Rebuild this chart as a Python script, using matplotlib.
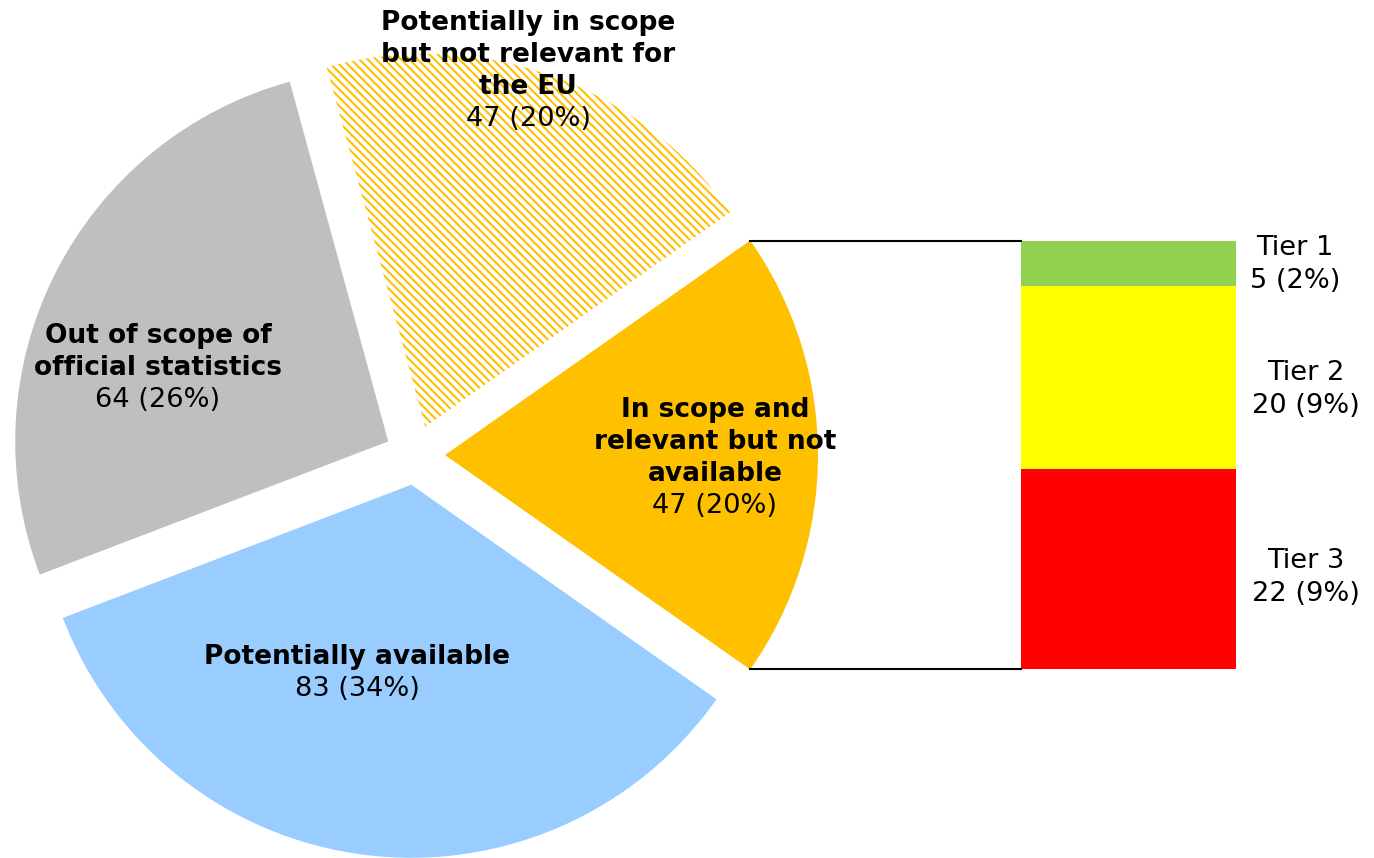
import math
import matplotlib
matplotlib.use('Agg')
import matplotlib.pyplot as plt

# pie slices, in drawing order (counter-clockwise from the right)
names = [['In scope and', 'relevant but not', 'available'],
         ['Potentially in scope', 'but not relevant for', 'the EU'],
         ['Out of scope of', 'official statistics'],
         ['Potentially available']]
counts = [47, 47, 64, 83]
shares = ['20%', '20%', '26%', '34%']
colors = ['#FFC000', 'white', '#BFBFBF', '#99CCFF']

# breakdown of the first slice
tiers = ['Tier 1', 'Tier 2', 'Tier 3']
tier_counts = [5, 20, 22]
tier_shares = ['2%', '9%', '9%']
tier_colors = ['#92D050', '#FFFF00', '#FF0000']

W, H = 1374, 858
plt.rcParams['font.family'] = 'DejaVu Sans'
plt.rcParams['hatch.linewidth'] = 1.5
plt.rcParams['hatch.color'] = '#FFC000'

fig = plt.figure(figsize=(W / 100, H / 100), dpi=100)
ax = fig.add_axes([0, 0, 1, 1])

cx, cy, r, gap = 415, 403, 373, 30
half = 180 * counts[0] / sum(counts)
wedges, _ = ax.pie(counts, colors=colors, startangle=-half, radius=r,
                   center=(cx, cy), explode=[gap] * len(counts),
                   counterclock=True, frame=True,
                   wedgeprops=dict(linewidth=0))
wedges[1].set_hatch('\\\\\\\\')

# corners of the exploded first slice
ox, oy = cx + gap, cy
x_top = ox + r * math.cos(math.radians(half))
y_top = oy + r * math.sin(math.radians(half))
y_bot = oy - r * math.sin(math.radians(half))

# stacked bar for the tiers
bar_left, bar_w = 1021, 215
scale = (y_top - y_bot) / sum(tier_counts)
bottom = y_bot
for t, n, c in reversed(list(zip(tiers, tier_counts, tier_colors))):
    ax.bar(bar_left + bar_w / 2, n * scale, width=bar_w, bottom=bottom,
           color=c, linewidth=0)
    bottom += n * scale

ax.plot([x_top, bar_left], [y_top, y_top], color='black', lw=1.5)
ax.plot([x_top, bar_left], [y_bot, y_bot], color='black', lw=1.5)


def label(x, top_baseline, bold_lines, plain_lines, step=32, fs_b=19, fs_p=19.6):
    y = H - top_baseline
    for line in bold_lines:
        ax.text(x, y, line, ha='center', va='baseline', fontsize=fs_b,
                fontweight='bold')
        y -= step
    for line in plain_lines:
        ax.text(x, y, line, ha='center', va='baseline', fontsize=fs_p)
        y -= step


# x centre and first baseline (pixels from top) of each label
label_pos = [(715, 417), (528, 30), (158, 343), (357, 664)]
for (x, y), name, n, s in zip(label_pos, names, counts, shares):
    label(x, y, name, [f'{n} ({s})'])

tier_pos = [(1295, 255), (1306, 380), (1306, 568)]
for (x, y), t, n, s in zip(tier_pos, tiers, tier_counts, tier_shares):
    label(x, y, [], [t, f'{n} ({s})'], step=33)

ax.set_xlim(0, W)
ax.set_ylim(0, H)
ax.set_aspect('equal')
ax.axis('off')

fig.savefig('out.png', dpi=100)
